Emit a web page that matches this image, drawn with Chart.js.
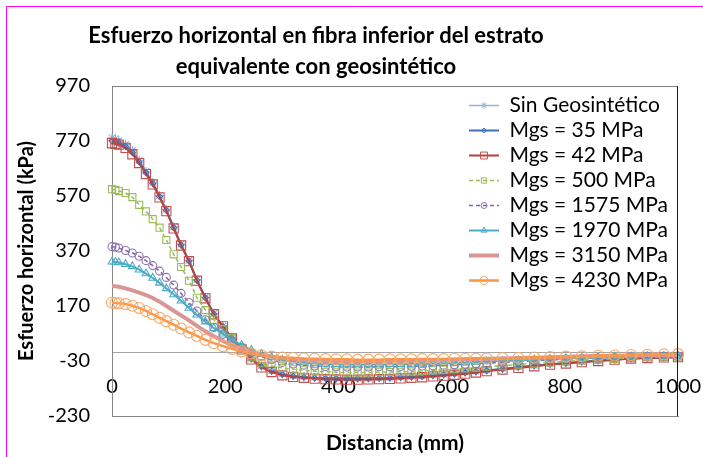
<!DOCTYPE html>
<html>
<head>
<meta charset="utf-8">
<script src="https://cdn.jsdelivr.net/npm/chart.js@4.4.0/dist/chart.umd.min.js"></script>
<style>
html,body{margin:0;padding:0;background:#fff;}
#wrap{position:relative;width:703px;height:457px;overflow:hidden;}
canvas{display:block;}
</style>
</head>
<body>
<div id="wrap"><canvas id="c" width="703" height="457"></canvas></div>
<script>
// ---- Data ----
const distanciaMm = [0, 6, 12, 24, 36, 48, 60, 72, 84, 96, 109, 122, 136, 150, 165, 180, 196, 212, 229, 246, 264, 282, 301, 320, 339, 358, 377, 396, 415, 434, 453, 472, 491, 510, 529, 548, 567, 586, 605, 624, 643, 662, 690, 718, 746, 774, 802, 830, 859, 888, 917, 946, 975, 1000];

const sinGeosintetico = [782,779,772,758,735,700,660,620,572,522, 458,395,336,266,202,143,97,55,15,-20, -48,-65,-77,-83,-87,-90,-91,-92,-92,-92, -92,-91,-90,-88,-86,-84,-81,-78,-75,-71, -67,-63,-57,-52,-46,-41,-37,-32,-28,-24, -20,-18,-16,-15];
const mgs35 = [770,767,762,750,728,694,655,616,568,518, 455,392,334,264,200,141,95,53,13,-22, -50,-67,-79,-85,-89,-92,-93,-94,-94,-94, -94,-93,-92,-90,-88,-86,-83,-80,-77,-73, -69,-65,-59,-53,-47,-42,-38,-33,-29,-25, -21,-19,-17,-16];
const mgs42 = [762,760,757,745,722,690,650,612,565,515, 452,390,333,262,198,140,96,52,12,-24, -53,-70,-82,-88,-91,-94,-96,-97,-98,-98, -97,-96,-95,-93,-91,-89,-86,-83,-80,-76, -72,-67,-61,-55,-49,-43,-39,-34,-30,-25, -21,-19,-17,-16];
const mgs500 = [595,592,588,581,566,538,514,486,455,410, 358,312,262,200,155,120,86,52,18,-17, -38,-48,-55,-60,-64,-67,-69,-71,-72,-72, -72,-71,-70,-69,-68,-66,-64,-62,-60,-57, -54,-51,-47,-43,-39,-35,-31,-28,-25,-22, -19,-17,-15,-14];
const mgs1575 = [386,384,381,372,363,351,335,317,297,274, 246,216,183,152,120,92,67,42,20,2, -14,-26,-35,-41,-45,-48,-50,-51,-52,-52, -52,-51,-51,-50,-49,-48,-47,-45,-44,-42, -40,-38,-35,-32,-29,-26,-23,-21,-19,-17, -15,-14,-13,-12];
const mgs1970 = [331,330,328,322,314,302,288,272,254,234, 212,189,163,138,113,89,69,48,28,10, -5,-17,-26,-32,-36,-39,-41,-42,-43,-43, -43,-43,-42,-42,-41,-40,-39,-38,-37,-35, -34,-32,-30,-28,-25,-23,-21,-19,-17,-15, -14,-13,-12,-11];
const mgs3150 = [243,242,240,234,227,219,210,199,186,170, 153,136,118,98,78,60,43,27,14,3, -7,-14,-19,-23,-26,-28,-29,-30,-30,-30, -30,-30,-29,-29,-28,-28,-27,-26,-25,-24, -23,-22,-21,-19,-18,-16,-15,-13,-12,-11, -10,-9,-8,-8];
const mgs4230 = [182,181,180,177,171,163,152,140,127,115, 102,88,74,61,47,35,24,14,5,-3, -9,-14,-17,-19,-21,-22,-23,-24,-24,-25, -25,-25,-24,-24,-24,-23,-23,-23,-22,-22, -22,-21,-20,-19,-17,-16,-14,-13,-11,-10, -8,-7,-6,-5];

const seriesNames = ['Sin Geosintético','Mgs = 35 MPa','Mgs = 42 MPa','Mgs = 500 MPa','Mgs = 1575 MPa','Mgs = 1970 MPa','Mgs = 3150 MPa','Mgs = 4230 MPa'];
const yTickValues = [-230, -30, 170, 370, 570, 770, 970];
const xTickValues = [0, 200, 400, 600, 800, 1000];

// ---- Styles ----
const styles = [
  {color:'#95B3D7', width:1.5, dash:[], point:'star', r:4.5, pColor:'#95B3D7'},
  {color:'#3F6FB5', width:2, dash:[], point:'rectRot', r:3, pColor:'#3F6FB5'},
  {color:'#B8413E', width:2, dash:[], point:'rect', r:6.5, pColor:'#C0504D'},
  {color:'#9BBB59', width:1.5, dash:[4,3], point:'rect', r:5, pColor:'#9BBB59'},
  {color:'#8064A2', width:1.5, dash:[4,3], point:'circle', r:4, pColor:'#8D74AE'},
  {color:'#4BACC6', width:2, dash:[], point:'triangle', r:4.5, pColor:'#4BACC6'},
  {color:'#D99694', width:4, dash:[], point:'circle', r:0, pColor:'#D99694'},
  {color:'#F79646', width:2.5, dash:[], point:'circle', r:5.5, pColor:'#F8A868'}
];
const seriesValues = [sinGeosintetico, mgs35, mgs42, mgs500, mgs1575, mgs1970, mgs3150, mgs4230];

const datasets = seriesValues.map((vals, i) => ({
  label: seriesNames[i],
  data: distanciaMm.map((x, k) => ({x: x, y: vals[k]})),
  borderColor: styles[i].color,
  backgroundColor: styles[i].color,
  borderWidth: styles[i].width,
  borderDash: styles[i].dash,
  pointStyle: styles[i].point,
  pointRadius: styles[i].r,
  pointBorderColor: styles[i].pColor,
  pointBackgroundColor: 'rgba(255,255,255,0)',
  pointBorderWidth: 1.1,
  tension: 0,
  clip: 12,
  order: 7 - i
}));

Chart.defaults.font.family = "Lato, 'Open Sans', sans-serif";
Chart.defaults.color = '#000';

const LEG_LEFT = 465, LEG_TOP = 91, LEG_PAD = 4, LEG_BOX = 30, LEG_FONT = 21;

function placeLegend(chart) {
  const lg = chart.legend;
  if (lg) { lg.left = LEG_LEFT; lg.top = LEG_TOP; lg.right = chart.width; lg.bottom = LEG_TOP + 215; }
}

const framePlugin = {
  id: 'framePlugin',
  afterLayout(chart) { placeLegend(chart); },
  beforeDraw(chart) {
    const ctx = chart.ctx;
    ctx.save();
    ctx.fillStyle = '#fff';
    ctx.fillRect(0, 0, chart.width, chart.height);
    ctx.strokeStyle = '#ff00ff';
    ctx.lineWidth = 1;
    ctx.beginPath();
    ctx.moveTo(6.5, chart.height);
    ctx.lineTo(6.5, 6.5);
    ctx.lineTo(chart.width, 6.5);
    ctx.stroke();
    ctx.restore();
    placeLegend(chart);
  },
  afterDatasetsDraw(chart) {
    const a = chart.chartArea, ctx = chart.ctx;
    ctx.save();
    ctx.lineWidth = 1;
    ctx.strokeStyle = '#7f7f7f';
    ctx.beginPath();
    ctx.moveTo(a.left, a.top + 0.5);
    ctx.lineTo(a.right, a.top + 0.5);
    ctx.stroke();
    ctx.strokeStyle = '#1a1a1a';
    ctx.beginPath();
    ctx.moveTo(a.right - 0.5, a.top);
    ctx.lineTo(a.right - 0.5, a.bottom);
    ctx.stroke();
    ctx.restore();
  },
  afterDraw(chart) {
    const ctx = chart.ctx;
    const lg = chart.legend;
    if (!lg || !Chart.helpers || !Chart.helpers.drawPoint) return;
    chart.data.datasets.forEach((ds, i) => {
      if (!ds.pointRadius) return;
      const cx = lg.left + LEG_PAD + LEG_BOX / 2;
      const cy = lg.top + LEG_PAD + i * (LEG_FONT + LEG_PAD) + LEG_FONT / 2;
      ctx.save();
      ctx.strokeStyle = ds.pointBorderColor;
      ctx.fillStyle = 'rgba(255,255,255,0)';
      ctx.lineWidth = 1;
      Chart.helpers.drawPoint(ctx, {pointStyle: ds.pointStyle, rotation: 0, radius: Math.max(2.5, ds.pointRadius * 0.75), borderWidth: 1}, cx, cy);
      ctx.restore();
    });
  }
};

new Chart(document.getElementById('c'), {
  type: 'line',
  data: { datasets: datasets },
  plugins: [framePlugin],
  options: {
    responsive: false,
    animation: false,
    devicePixelRatio: 1,
    layout: { padding: { left: -46, right: 25, top: 0, bottom: 0 } },
    plugins: {
      title: {
        display: true,
        text: ['Esfuerzo horizontal en fibra inferior del estrato', 'equivalente con geosintético'],
        font: { size: 22, weight: 'bold', lineHeight: 1.41 },
        color: '#000',
        padding: { top: 20, bottom: 4 }
      },
      legend: {
        position: 'chartArea',
        align: 'start',
        labels: {
          boxWidth: LEG_BOX, boxHeight: 0, padding: LEG_PAD,
          font: { size: LEG_FONT }, color: '#000',
          sort: (a, b) => a.datasetIndex - b.datasetIndex
        }
      },
      tooltip: { enabled: false }
    },
    scales: {
      x: {
        type: 'linear', min: 0, max: 1000,
        afterBuildTicks: s => { s.ticks = xTickValues.map(v => ({value: v})); },
        ticks: { mirror: true, padding: 17, font: { size: 20 }, color: '#000', maxRotation: 0, autoSkip: false, callback: v => String(v) },
        grid: { display: false, drawTicks: false },
        border: { display: true, color: '#868686', width: 1 },
        title: { display: true, text: 'Distancia (mm)', font: { size: 21, weight: 'bold' }, color: '#000', padding: { top: 0, bottom: 1 } },
        afterFit: s => { s.height = 41; s.paddingLeft = 0; s.paddingRight = 0; }
      },
      y: {
        type: 'linear', min: -230, max: 970,
        afterBuildTicks: s => { s.ticks = yTickValues.concat([0]).sort((a, b) => a - b).map(v => ({value: v})); },
        ticks: { padding: 22, font: { size: 20 }, color: '#000', callback: v => (v === 0 ? '' : String(v)) },
        grid: { drawTicks: false, lineWidth: 1, color: c => (c.tick && c.tick.value === 0 ? '#a6a6a6' : 'rgba(0,0,0,0)') },
        border: { display: true, color: '#868686', width: 1 },
        title: { display: true, text: 'Esfuerzo horizontal (kPa)', font: { size: 20, weight: 'bold' }, color: '#000', padding: { top: 61, bottom: 0 } },
        afterFit: s => { s.width = 158; }
      }
    }
  }
});
</script>
</body>
</html>
